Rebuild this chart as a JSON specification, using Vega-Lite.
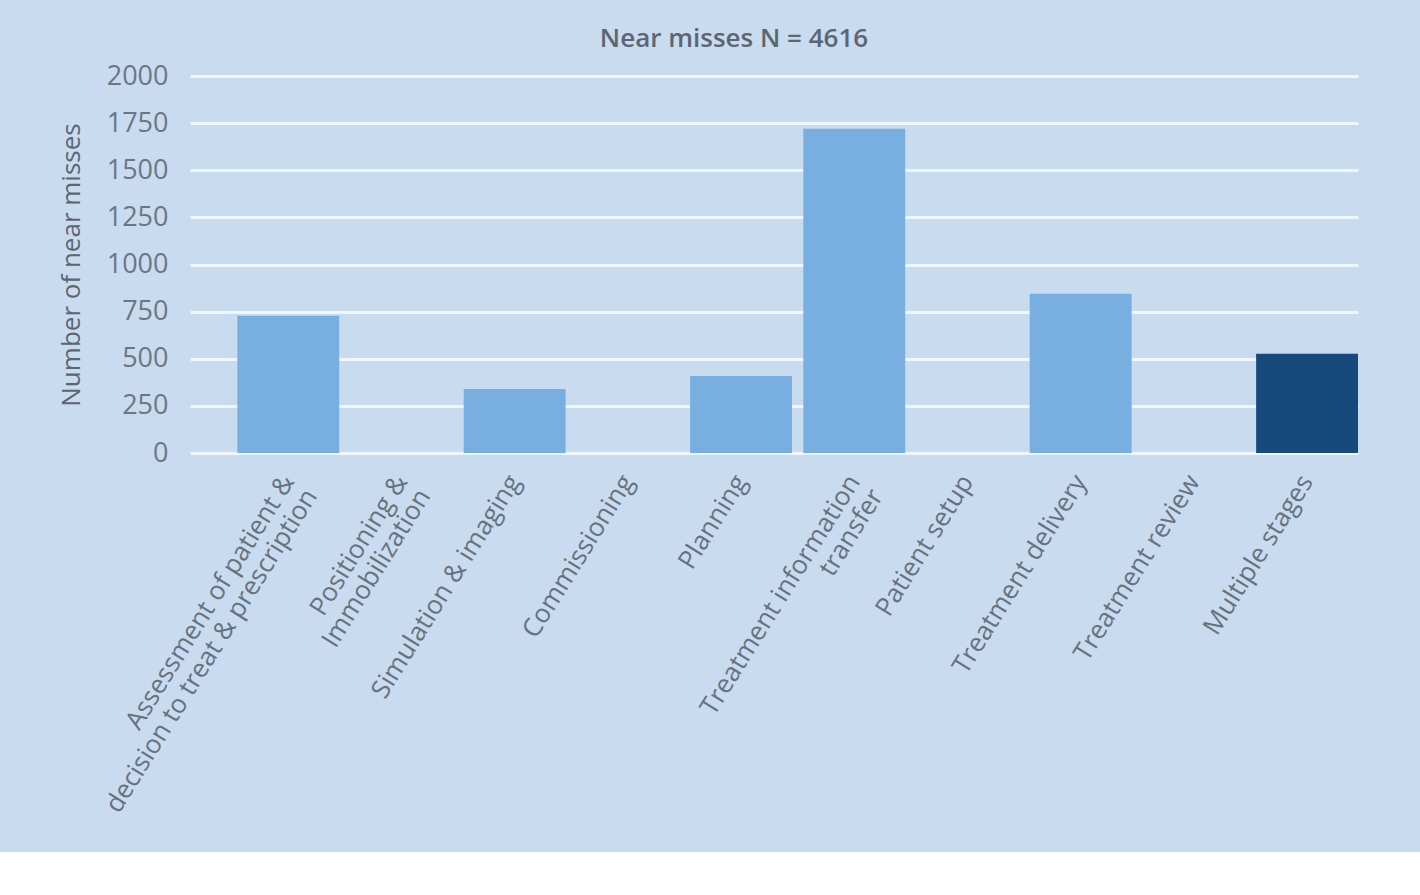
{
  "$schema": "https://vega.github.io/schema/vega-lite/v6.json",
  "autosize": {"type": "none"},
  "width": 1168,
  "height": 377,
  "padding": {"left": 190, "top": 76, "right": 62, "bottom": 399},
  "background": "#c8dbef",
  "data": {
    "values": [
      {"stage": "Assessment of patient & decision to treat & prescription", "count": 728, "kind": "single"},
      {"stage": "Positioning & Immobilization", "count": 0, "kind": "single"},
      {"stage": "Simulation & imaging", "count": 340, "kind": "single"},
      {"stage": "Commissioning", "count": 0, "kind": "single"},
      {"stage": "Planning", "count": 409, "kind": "single"},
      {"stage": "Treatment information transfer", "count": 1720, "kind": "single"},
      {"stage": "Patient setup", "count": 0, "kind": "single"},
      {"stage": "Treatment delivery", "count": 845, "kind": "single"},
      {"stage": "Treatment review", "count": 0, "kind": "single"},
      {"stage": "Multiple stages", "count": 526, "kind": "multiple"}
    ]
  },
  "title": {
    "text": "Near misses N = 4616",
    "font": "Open Sans",
    "fontSize": 26,
    "fontWeight": 600,
    "color": "#5c6673",
    "anchor": "middle",
    "dx": -40,
    "offset": 10
  },
  "mark": {"type": "bar"},
  "encoding": {
    "x": {
      "field": "stage",
      "type": "nominal",
      "sort": null,
      "scale": {"paddingInner": 0.1, "paddingOuter": 0.209, "align": 1},
      "axis": {
        "title": null,
        "domain": false,
        "ticks": false,
        "grid": false,
        "labelAngle": -58,
        "labelAlign": "right",
        "labelBaseline": "middle",
        "labelPadding": 24,
        "labelFont": "Open Sans",
        "labelFontSize": 26,
        "labelColor": "#667280",
        "labelLineHeight": 27,
        "labelLimit": 0,
        "labelExpr": "datum.value == 'Assessment of patient & decision to treat & prescription' ? ['Assessment of patient &', 'decision to treat & prescription'] : datum.value == 'Positioning & Immobilization' ? ['Positioning &', 'Immobilization'] : datum.value == 'Treatment information transfer' ? ['Treatment information', 'transfer'] : datum.value"
      }
    },
    "y": {
      "field": "count",
      "type": "quantitative",
      "scale": {"domain": [0, 2000], "nice": false},
      "axis": {
        "title": "Number of near misses",
        "values": [0, 250, 500, 750, 1000, 1250, 1500, 1750, 2000],
        "format": "d",
        "domain": false,
        "ticks": false,
        "grid": true,
        "gridColor": "#eef6ff",
        "gridWidth": 3,
        "labelPadding": 22,
        "labelFont": "Open Sans",
        "labelFontSize": 27,
        "labelColor": "#6b7784",
        "titleFont": "Open Sans",
        "titleFontSize": 26,
        "titleFontWeight": 500,
        "titleColor": "#5c6673",
        "titlePadding": 22
      }
    },
    "color": {
      "field": "kind",
      "type": "nominal",
      "scale": {"domain": ["single", "multiple"], "range": ["#78aee0", "#174a7c"]},
      "legend": null
    }
  },
  "config": {
    "view": {"stroke": null},
    "axis": {"zindex": 0}
  }
}
